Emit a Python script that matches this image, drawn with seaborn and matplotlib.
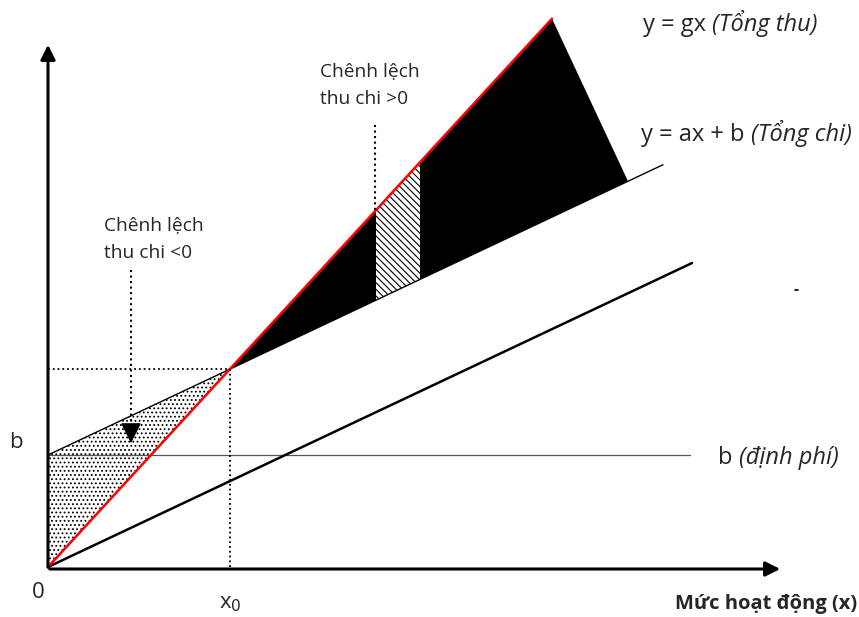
import matplotlib.pyplot as plt
import seaborn as sns
import numpy as np
import pandas as pd

# break-even chart parameters (units ~ pixels of the original drawing)
g = 1.088      # unit price  -> y = gx
a = 0.472      # unit variable cost
b = 112        # fixed cost
x0 = b / (g - a)

x_revenue = [0, 504]
x_total_cost = [0, 615]
x_variable = [0, 644]
x_fixed = [0, 642]
x_profit_end = 580
x_hatch = [328, 372]

sns.set_style("white")
plt.rcParams['font.family'] = ['Open Sans', 'DejaVu Sans']
plt.rcParams['hatch.linewidth'] = 0.8

fig = plt.figure(figsize=(8.59, 6.17), dpi=100)
ax = fig.add_axes([0, 0, 1, 1])
ax.set_xlim(-48, 811)
ax.set_ylim(-50, 567)
ax.axis('off')

# loss area (dotted)
xl = np.array([0, x0])
ax.fill_between(xl, g * xl, a * xl + b, facecolor='white', edgecolor='black',
                hatch='....', linewidth=0, zorder=1)

# profit area (black)
xp = [x0, x_revenue[1], x_profit_end]
yp = [g * x0, g * x_revenue[1], a * x_profit_end + b]
ax.fill(xp, yp, color='black', linewidth=0, zorder=1)

xh = np.array(x_hatch)
ax.fill_between(xh, g * xh, a * xh + b, facecolor='white', edgecolor='black',
                hatch='\\\\\\\\\\', linewidth=0, zorder=2)

lines = pd.concat([
    pd.DataFrame({'x': x_fixed, 'y': [b, b], 'line': 'fixed'}),
    pd.DataFrame({'x': x_total_cost, 'y': [a * v + b for v in x_total_cost], 'line': 'total'}),
    pd.DataFrame({'x': x_variable, 'y': [a * v for v in x_variable], 'line': 'variable'}),
    pd.DataFrame({'x': x_revenue, 'y': [g * v for v in x_revenue], 'line': 'revenue'}),
])
styles = {'fixed': ('#555555', 0.9), 'total': ('black', 1.0),
          'variable': ('black', 1.8), 'revenue': ('red', 1.8)}
for name, d in lines.groupby('line', sort=False):
    c, lw = styles[name]
    sns.lineplot(data=d, x='x', y='y', ax=ax, color=c, linewidth=lw, zorder=3)

# dotted guide lines at break-even
ax.plot([0, x0], [g * x0, g * x0], ls=':', color='black', lw=1.3, zorder=3)
ax.plot([x0, x0], [0, g * x0], ls=':', color='black', lw=1.3, zorder=3)

# axes with arrows
ax.annotate('', xy=(0, 525), xytext=(0, -3),
            arrowprops=dict(arrowstyle='-|>', color='black', lw=2.2, mutation_scale=22))
ax.annotate('', xy=(735, -2), xytext=(-1, -2),
            arrowprops=dict(arrowstyle='-|>', color='black', lw=2.2, mutation_scale=22))

# pointer arrows
ax.plot([83, 83], [297, 135], ls=':', color='black', lw=1.5, zorder=4)
ax.annotate('', xy=(83, 121), xytext=(83, 140),
            arrowprops=dict(arrowstyle='-|>', color='black', lw=1, mutation_scale=32), zorder=4)
ax.plot([327, 327], [442, g * 327], ls=':', color='black', lw=1.5, zorder=4)

# stray mark at the right
ax.plot([747, 750], [277, 277], color='black', lw=1.2)

fs = 13.8
ax.text(56, 328, 'Chênh lệch\nthu chi <0', fontsize=fs, va='center', ha='left', linespacing=1.65)
ax.text(272, 482, 'Chênh lệch\nthu chi >0', fontsize=fs, va='center', ha='left', linespacing=1.65)

fe = 17
t1 = ax.text(595, 542, 'y = gx ', fontsize=fe, va='center', ha='left')
ax.annotate('(Tổng thu)', xy=(1, 0), xycoords=t1, va='bottom', ha='left',
            fontsize=fe, style='italic')
t2 = ax.text(593, 432, 'y = ax + b ', fontsize=fe, va='center', ha='left')
ax.annotate('(Tổng chi)', xy=(1, 0), xycoords=t2, va='bottom', ha='left',
            fontsize=fe, style='italic')
t3 = ax.text(670, 109, 'b ', fontsize=fe, va='center', ha='left')
ax.annotate('(định phí)', xy=(1, 0), xycoords=t3, va='bottom', ha='left',
            fontsize=fe, style='italic')

ax.text(-32, 125, 'b', fontsize=16, va='center', ha='center')
ax.text(-10, -25, '0', fontsize=16, va='center', ha='center')
ax.text(x0, -37, 'x$_0$', fontsize=16, va='center', ha='center')
ax.text(809, -47, 'Mức hoạt động (x)', fontsize=14.5, fontweight='bold',
        va='bottom', ha='right')

fig.savefig('out.png', dpi=100)
